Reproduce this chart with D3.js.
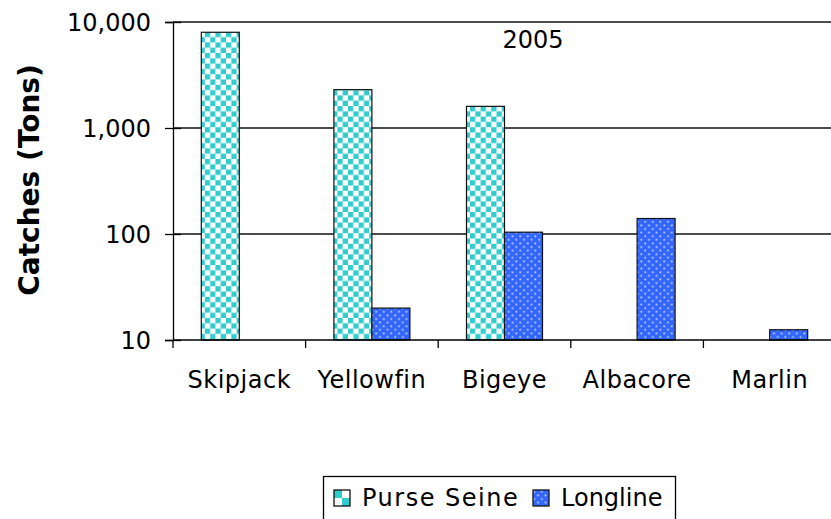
<!DOCTYPE html>
<html>
<head>
<meta charset="utf-8">
<script src="https://cdn.jsdelivr.net/npm/d3@7"></script>
<style>
  html, body { margin: 0; padding: 0; background: #fff; }
  svg { display: block; }
  text { font-family: "DejaVu Sans", sans-serif; fill: #000; }
</style>
</head>
<body>
<svg id="chart" width="831" height="519"></svg>
<script>
// Catches by species and gear, 2005 (log scale)
const categories = ["Skipjack", "Yellowfin", "Bigeye", "Albacore", "Marlin"];
const seriesNames = ["Purse Seine", "Longline"];
const purseSeine = [8000, 2300, 1600, null, null];
const longline = [null, 20, 104, 140, 12.5];
const yTicks = [10, 100, 1000, 10000];
const chartTitle = "2005";
const yTitle = "Catches (Tons)";

const svg = d3.select("#chart");
const plot = { left: 173, right: 836, top: 22, bottom: 340 };

// Fill patterns for the two gear types
const defs = svg.append("defs");
const checker = defs.append("pattern")
  .attr("id", "checker").attr("patternUnits", "userSpaceOnUse")
  .attr("width", 10.6).attr("height", 10.6);
checker.append("rect").attr("width", 10.6).attr("height", 10.6).attr("fill", "#fff");
checker.append("rect").attr("width", 5.3).attr("height", 5.3).attr("fill", "#33CCCC");
checker.append("rect").attr("x", 5.3).attr("y", 5.3).attr("width", 5.3).attr("height", 5.3).attr("fill", "#33CCCC");

const legendChecker = defs.append("pattern")
  .attr("id", "checkerBig").attr("patternUnits", "userSpaceOnUse")
  .attr("width", 16).attr("height", 16).attr("x", 334).attr("y", 490);
legendChecker.append("rect").attr("width", 16).attr("height", 16).attr("fill", "#fff");
legendChecker.append("rect").attr("width", 8).attr("height", 8).attr("fill", "#33CCCC");
legendChecker.append("rect").attr("x", 8).attr("y", 8).attr("width", 8).attr("height", 8).attr("fill", "#33CCCC");

const dots = defs.append("pattern")
  .attr("id", "dots").attr("patternUnits", "userSpaceOnUse")
  .attr("width", 7.6).attr("height", 7.2);
dots.append("rect").attr("width", 7.6).attr("height", 7.2).attr("fill", "#3366FF");
dots.append("rect").attr("x", 1.4).attr("y", 1.4).attr("width", 1.6).attr("height", 1.6).attr("fill", "#dde6ff");
dots.append("rect").attr("x", 5.2).attr("y", 5.0).attr("width", 1.6).attr("height", 1.6).attr("fill", "#dde6ff");

const fills = { "Purse Seine": "url(#checker)", "Longline": "url(#dots)" };

// Scales
const x0 = d3.scaleBand().domain(categories).range([plot.left, plot.right]).paddingInner(0).paddingOuter(0);
const x1 = d3.scaleBand().domain(seriesNames).range([0, x0.bandwidth()]).paddingInner(0).paddingOuter(0.745);
const y = d3.scaleLog().domain([10, 10000]).range([plot.bottom, plot.top]);

// Horizontal gridlines
svg.append("g").selectAll("line")
  .data(yTicks.filter(v => v > 10))
  .join("line")
  .attr("x1", plot.left).attr("x2", plot.right)
  .attr("y1", d => y(d)).attr("y2", d => y(d))
  .attr("stroke", "#111").attr("stroke-width", 1.3);

// Bars
const rows = categories.map((c, i) => ({ cat: c, values: [
  { s: "Purse Seine", v: purseSeine[i] },
  { s: "Longline", v: longline[i] }
]}));

const groups = svg.append("g").selectAll("g")
  .data(rows).join("g")
  .attr("transform", d => `translate(${x0(d.cat)},0)`);

groups.selectAll("rect")
  .data(d => d.values.filter(e => e.v != null))
  .join("rect")
  .attr("x", d => x1(d.s))
  .attr("width", x1.bandwidth())
  .attr("y", d => y(d.v))
  .attr("height", d => y(10) - y(d.v))
  .attr("fill", d => fills[d.s])
  .attr("stroke", "#111").attr("stroke-width", 1.2);

// Y axis
const yAxis = d3.axisLeft(y)
  .tickValues(yTicks)
  .tickFormat(d3.format(","))
  .tickSize(8).tickPadding(14);
const gy = svg.append("g").attr("transform", `translate(${plot.left},0)`).call(yAxis);
gy.select(".domain").attr("stroke", "#000").attr("stroke-width", 1.3);
gy.selectAll(".tick line").attr("stroke", "#000").attr("stroke-width", 1.3).attr("x2", 8).attr("x1", -8);
gy.selectAll(".tick text").style("font-size", "24px").style("font-family", "DejaVu Sans").attr("dy", "0.36em");

// X axis with category boundary ticks
svg.append("line")
  .attr("x1", plot.left).attr("x2", plot.right)
  .attr("y1", plot.bottom).attr("y2", plot.bottom)
  .attr("stroke", "#000").attr("stroke-width", 1.3);
svg.append("g").selectAll("line")
  .data(categories.map(c => x0(c)).concat([plot.right]))
  .join("line")
  .attr("x1", d => d).attr("x2", d => d)
  .attr("y1", plot.bottom).attr("y2", plot.bottom + 8)
  .attr("stroke", "#000").attr("stroke-width", 1.3);

svg.append("g").selectAll("text")
  .data(categories).join("text")
  .attr("x", d => x0(d) + x0.bandwidth() / 2)
  .attr("y", 388)
  .attr("text-anchor", "middle")
  .style("font-size", "24px")
  .style("letter-spacing", "0.5px")
  .text(d => d);

// Chart title
svg.append("text")
  .attr("x", 533).attr("y", 48)
  .attr("text-anchor", "middle")
  .style("font-size", "24px")
  .text(chartTitle);

// Y axis title
svg.append("text")
  .attr("transform", `translate(39,180) rotate(-90)`)
  .attr("text-anchor", "middle")
  .style("font-size", "28px").style("font-weight", "bold")
  .text(yTitle);

// Legend
const lg = svg.append("g");
lg.append("rect")
  .attr("x", 323.5).attr("y", 476.5).attr("width", 352).attr("height", 60)
  .attr("fill", "#fff").attr("stroke", "#000").attr("stroke-width", 1.3);
const legendItems = [
  { s: "Purse Seine", x: 334, fill: "url(#checkerBig)", spacing: "1.5px" },
  { s: "Longline", x: 533, fill: "url(#dots)", spacing: "0px" }
];
legendItems.forEach(it => {
  lg.append("rect")
    .attr("x", it.x).attr("y", 490).attr("width", 16).attr("height", 16)
    .attr("fill", it.fill).attr("stroke", "#111").attr("stroke-width", 1.3);
  lg.append("text")
    .attr("x", it.x + 28).attr("y", 506)
    .style("font-size", "24px")
    .style("letter-spacing", it.spacing)
    .text(it.s);
});
</script>
</body>
</html>
